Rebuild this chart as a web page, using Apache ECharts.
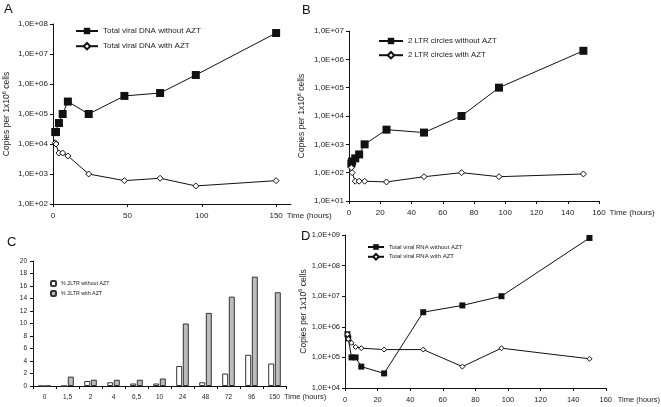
<!DOCTYPE html>
<html>
<head>
<meta charset="utf-8">
<script src="https://cdn.jsdelivr.net/npm/echarts@6/dist/echarts.min.js"></script>
<style>
  html, body { margin: 0; padding: 0; background: #fff; }
  #chart { width: 661px; height: 407px; }
</style>
</head>
<body>
<div id="chart"></div>
<script>
// sampling times (hours)
const hours = [1.5, 2, 4, 6.5, 10, 24, 48, 72, 96, 150];

// A: total viral DNA
const dnaWithout = [2.5e4, 2.5e4, 5e4, 1e5, 2.6e5, 1e5, 4e5, 5e5, 2e6, 5e7];
const dnaWith = [1.1e4, 1e4, 5e3, 5e3, 4e3, 1e3, 6e2, 7.2e2, 4e2, 6e2];

// B: 2 LTR circles
const ltrWithout = [2.1e2, 2.5e2, 3.2e2, 4.4e2, 1e3, 3.3e3, 2.6e3, 1e4, 1e5, 2e6];
const ltrWith = [1.5e2, 1e2, 5e1, 5e1, 5e1, 4.7e1, 7.2e1, 1e2, 7.2e1, 9e1];

// C: % 2LTR
const pctCategories = ['0', '1,5', '2', '4', '6,5', '10', '24', '48', '72', '96', '150'];
const pctWithout = [0, 0, 0.8, 0.6, 0.4, 0.4, 3.2, 0.6, 2.0, 5.0, 3.6];
const pctWith = [0, 1.5, 1.0, 1.0, 1.0, 1.2, 10.0, 11.7, 14.3, 17.5, 15.0];

// D: total viral RNA
const rnaWithout = [5.7e5, 4.2e5, 1e5, 1e5, 5e4, 3e4, 3e6, 5e6, 1e7, 8e8];
const rnaWith = [5.7e5, 4e5, 3e5, 2.2e5, 2e5, 1.8e5, 1.8e5, 5e4, 2e5, 9e4];

const FONT = "'Liberation Sans Narrow', 'Liberation Sans', Arial, sans-serif";
const TXT = '#222';

const chart = echarts.init(document.getElementById('chart'));

function pairs(ys) {
  return hours.map((h, i) => [h, ys[i]]);
}

function sciLabel(v) {
  const e = Math.round(Math.log10(v));
  return '1,0E+' + (e < 10 ? '0' : '') + e;
}

function logAxis(idx, min, max, labelSize, nameGap) {
  return {
    gridIndex: idx,
    type: 'log',
    logBase: 10,
    min: min,
    max: max,
    splitNumber: Math.round(Math.log10(max / min)),
    axisLine: { show: true, lineStyle: { color: '#111', width: 1 } },
    axisTick: { show: true, length: 3, lineStyle: { color: '#111' } },
    minorTick: { show: false },
    splitLine: { show: false },
    axisLabel: { formatter: sciLabel, fontSize: labelSize, color: TXT, fontFamily: FONT, margin: 5 },
    name: 'Copies per 1x10{s|6} cells',
    nameLocation: 'middle',
    nameRotate: 90,
    nameGap: nameGap,
    nameTextStyle: {
      fontSize: 8.5, color: TXT, fontFamily: FONT,
      rich: { s: { fontSize: 5.5, color: TXT, fontFamily: FONT, padding: [0, 0, 5, 0] } }
    }
  };
}

function timeAxis(idx, interval, labelSize, nameGap, hideMax) {
  return {
    gridIndex: idx,
    type: 'value',
    min: 0,
    max: 160,
    interval: interval,
    axisLine: { show: true, onZero: false, lineStyle: { color: '#111', width: 1 } },
    axisTick: { show: true, length: 3, lineStyle: { color: '#111' } },
    splitLine: { show: false },
    axisLabel: { fontSize: labelSize, color: TXT, fontFamily: FONT, margin: 8, showMaxLabel: !hideMax },
    name: 'Time (hours)',
    nameLocation: 'end',
    nameGap: nameGap,
    nameTextStyle: { fontSize: labelSize, color: TXT, fontFamily: FONT, verticalAlign: 'top', padding: [8, 0, 0, 0] }
  };
}

function lineSeries(name, idx, ys, filled, size) {
  return {
    name: name,
    type: 'line',
    xAxisIndex: idx,
    yAxisIndex: idx,
    data: pairs(ys),
    symbol: filled ? 'rect' : 'diamond',
    symbolSize: filled ? size : size - 1,
    lineStyle: { color: '#111', width: 1 },
    itemStyle: filled
      ? { color: '#111', borderColor: '#111', borderWidth: 0 }
      : { color: '#fff', borderColor: '#111', borderWidth: 1 },
    animation: false
  };
}

function legendFor(names, left, top, size, gap, iw, ih) {
  return {
    data: names,
    left: left,
    top: top,
    orient: 'vertical',
    itemWidth: iw,
    itemHeight: ih,
    itemGap: gap,
    padding: 0,
    textStyle: { fontSize: size, color: TXT, fontFamily: FONT },
    selectedMode: false
  };
}

const letter = (t, x, y) => ({
  type: 'text', left: x, top: y,
  style: { text: t, fontSize: 13, fill: '#111', fontFamily: FONT }
});

const option = {
  backgroundColor: '#fff',
  animation: false,
  graphic: [letter('A', 4, 3), letter('B', 302, 4), letter('C', 7, 236), letter('D', 301, 230)],
  grid: [
    { left: 51, top: 24, width: 240, height: 180 },
    { left: 349, top: 31, width: 250, height: 170 },
    { left: 33, top: 261, width: 253, height: 125 },
    { left: 345, top: 235, width: 263, height: 153 }
  ],
  legend: [
    legendFor(['Total viral DNA without AZT', 'Total viral DNA with AZT'], 75, 27, 8, 7, 22, 8),
    legendFor(['2 LTR circles without AZT', '2 LTR circles with AZT'], 378, 37, 7.8, 6, 24, 8),
    {
      data: ['% 2LTR without AZT', '% 2LTR with AZT'],
      left: 50, top: 280, orient: 'vertical', itemWidth: 5, itemHeight: 5, itemGap: 3, padding: 0,
      textStyle: { fontSize: 5.3, color: TXT, fontFamily: FONT },
      selectedMode: false
    },
    legendFor(['Total viral RNA without AZT', 'Total viral RNA with AZT'], 367, 244, 6, 3, 16, 7)
  ],
  xAxis: [
    timeAxis(0, 50, 8, -6, true),
    timeAxis(1, 20, 8, 8, false),
    {
      gridIndex: 2,
      type: 'category',
      data: pctCategories,
      axisLine: { show: true, lineStyle: { color: '#111', width: 1 } },
      axisTick: { show: true, length: 3, alignWithLabel: false, lineStyle: { color: '#111' } },
      axisLabel: { fontSize: 6.5, color: TXT, fontFamily: FONT, margin: 8 },
      name: 'Time (hours)',
      nameLocation: 'end',
      nameGap: -2,
      nameTextStyle: { fontSize: 7.5, color: TXT, fontFamily: FONT, verticalAlign: 'top', padding: [7, 0, 0, 0] }
    },
    timeAxis(3, 20, 7.5, 12, false)
  ],
  yAxis: [
    logAxis(0, 1e2, 1e8, 8, 41),
    logAxis(1, 1e1, 1e7, 8, 42),
    {
      gridIndex: 2,
      type: 'value',
      min: 0,
      max: 20,
      interval: 2,
      axisLine: { show: true, lineStyle: { color: '#111', width: 1 } },
      axisTick: { show: true, length: 3, lineStyle: { color: '#111' } },
      splitLine: { show: false },
      axisLabel: { fontSize: 6.5, color: TXT, fontFamily: FONT, margin: 6 }
    },
    logAxis(3, 1e4, 1e9, 7.5, 34)
  ],
  series: [
    lineSeries('Total viral DNA without AZT', 0, dnaWithout, true, 8),
    lineSeries('Total viral DNA with AZT', 0, dnaWith, false, 7),
    lineSeries('2 LTR circles without AZT', 1, ltrWithout, true, 8),
    lineSeries('2 LTR circles with AZT', 1, ltrWith, false, 7),
    {
      name: '% 2LTR without AZT',
      type: 'bar',
      xAxisIndex: 2,
      yAxisIndex: 2,
      data: pctWithout,
      barWidth: 6,
      barGap: '10%',
      itemStyle: { color: '#fff', borderColor: '#333', borderWidth: 1 }
    },
    {
      name: '% 2LTR with AZT',
      type: 'bar',
      xAxisIndex: 2,
      yAxisIndex: 2,
      data: pctWith,
      barWidth: 6,
      barGap: '10%',
      itemStyle: { color: '#bcbcbc', borderColor: '#333', borderWidth: 1 }
    },
    lineSeries('Total viral RNA without AZT', 3, rnaWithout, true, 6),
    lineSeries('Total viral RNA with AZT', 3, rnaWith, false, 6)
  ]
};

chart.setOption(option);
</script>
</body>
</html>
